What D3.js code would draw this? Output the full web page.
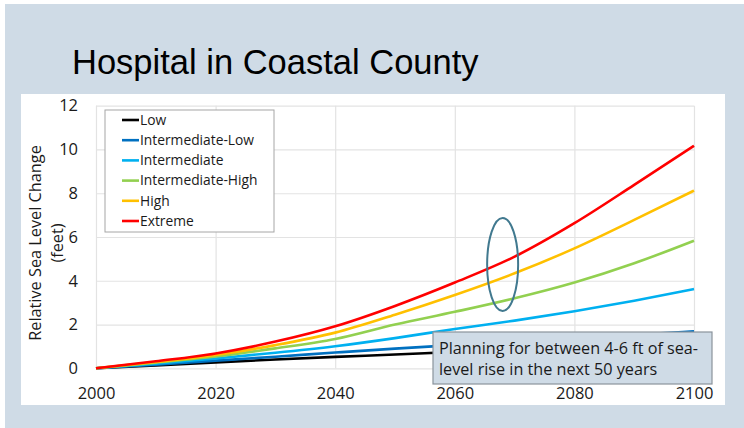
<!DOCTYPE html>
<html>
<head>
<meta charset="utf-8">
<script src="https://cdn.jsdelivr.net/npm/d3@7"></script>
<style>
  html, body { margin: 0; padding: 0; background: #fff; }
  svg { display: block; }
  .grid line { stroke: #e3e3e3; stroke-width: 1.2; }
  .grid .domain { display: none; }
  .axis text { font-family: 'Open Sans', sans-serif; font-size: 16.5px; fill: #1a1a1a; }
  .axis .domain, .axis line { display: none; }
</style>
</head>
<body>
<div id="chart"></div>
<script>
// Data
const years = [2000, 2010, 2020, 2030, 2040, 2050, 2060, 2070, 2080, 2090, 2100];
const low = [0, 0.13, 0.27, 0.40, 0.52, 0.63, 0.75, 0.86, 0.97, 1.08, 1.2];
const intermediateLow = [0, 0.17, 0.35, 0.53, 0.72, 0.90, 1.06, 1.22, 1.38, 1.53, 1.69];
const intermediate = [0, 0.21, 0.45, 0.71, 1.01, 1.38, 1.80, 2.18, 2.61, 3.09, 3.62];
const intermediateHigh = [0, 0.26, 0.54, 0.91, 1.34, 2.0, 2.58, 3.2, 3.92, 4.8, 5.83];
const high = [0, 0.29, 0.61, 1.06, 1.63, 2.45, 3.35, 4.34, 5.48, 6.78, 8.12];
const extreme = [0, 0.32, 0.68, 1.22, 1.92, 2.85, 3.92, 5.10, 6.63, 8.38, 10.17];

const seriesNames = ['Low', 'Intermediate-Low', 'Intermediate', 'Intermediate-High', 'High', 'Extreme'];
const seriesValues = [low, intermediateLow, intermediate, intermediateHigh, high, extreme];
const seriesColors = ['#000000', '#0070c0', '#00b0f0', '#92d050', '#ffc000', '#ff0000'];

const xTicks = [2000, 2020, 2040, 2060, 2080, 2100];
const yTicks = [0, 2, 4, 6, 8, 10, 12];

const title = 'Hospital in Coastal County';
const yTitle = ['Relative Sea Level Change', '(feet)'];
const note = ['Planning for between 4-6 ft of sea-', 'level rise in the next 50 years'];

// Sizes
const W = 744, H = 428;
const margin = { top: 105.7, right: 50, bottom: 59.7, left: 96 };
const width = W - margin.left - margin.right;
const height = H - margin.top - margin.bottom;

const svg = d3.select('#chart').append('svg').attr('width', W).attr('height', H);

// Slide background
svg.append('rect').attr('width', W).attr('height', H).attr('fill', '#ffffff');
svg.append('rect').attr('x', 5).attr('y', 4).attr('width', W - 5).attr('height', H - 4).attr('fill', '#cfdbe6');

svg.append('text')
  .attr('x', 72).attr('y', 74)
  .style('font-family', "'Liberation Sans', Arial, sans-serif")
  .style('font-size', '34.5px')
  .style('fill', '#000')
  .text(title);

// White chart panel
svg.append('rect').attr('x', 21).attr('y', 94).attr('width', 704).attr('height', 311).attr('fill', '#ffffff');

const g = svg.append('g').attr('transform', `translate(${margin.left},${margin.top})`);

const xScale = d3.scaleLinear().domain([2000, 2100]).range([0, width]);
const yScale = d3.scaleLinear().domain([0, 12]).range([height, 0]);

// Gridlines
g.append('g').attr('class', 'grid')
  .call(d3.axisLeft(yScale).tickValues(yTicks).tickSize(-width).tickFormat(''));
g.append('g').attr('class', 'grid')
  .attr('transform', `translate(0,${height})`)
  .call(d3.axisBottom(xScale).tickValues(xTicks).tickSize(-height).tickFormat(''));

// Axes labels
g.append('g').attr('class', 'axis')
  .call(d3.axisLeft(yScale).tickValues(yTicks).tickSize(0).tickPadding(18));

g.append('g').attr('class', 'axis')
  .attr('transform', `translate(0,${height})`)
  .call(d3.axisBottom(xScale).tickValues(xTicks).tickSize(0).tickPadding(19).tickFormat(d3.format('d')));

// Y title
const yTitleText = svg.append('text')
  .attr('transform', `translate(41,${margin.top + height / 2 + 6}) rotate(-90)`)
  .attr('text-anchor', 'middle')
  .style('font-family', "'Open Sans', sans-serif")
  .style('font-size', '16.3px')
  .style('fill', '#1a1a1a');
yTitleText.selectAll('tspan').data(yTitle).enter().append('tspan')
  .attr('x', 0).attr('dy', (d, i) => i === 0 ? 0 : '1.35em')
  .text(d => d);

// Lines
const line = d3.line()
  .x((d, i) => xScale(years[i]))
  .y(d => yScale(d))
  .curve(d3.curveMonotoneX);

g.selectAll('.series')
  .data(seriesValues)
  .enter()
  .append('path')
  .attr('class', 'series')
  .attr('d', line)
  .attr('fill', 'none')
  .attr('stroke', (d, i) => seriesColors[i])
  .attr('stroke-width', 2.6);

// Legend
const legend = svg.append('g').attr('transform', 'translate(105,110)');
legend.append('rect').attr('width', 169).attr('height', 122)
  .attr('fill', '#fff').attr('stroke', '#a6a6a6').attr('stroke-width', 1);
const items = legend.selectAll('.item').data(seriesNames).enter().append('g')
  .attr('transform', (d, i) => `translate(0,${10 + i * 20.2})`);
items.append('line').attr('x1', 17).attr('x2', 34).attr('y1', 0).attr('y2', 0)
  .attr('stroke', (d, i) => seriesColors[i]).attr('stroke-width', 2.6);
items.append('text').attr('x', 35).attr('dy', '0.35em')
  .style('font-family', "'Open Sans', sans-serif")
  .style('font-size', '13.8px')
  .style('fill', '#1a1a1a')
  .text(d => d);

// Ellipse highlight
svg.append('ellipse')
  .attr('cx', xScale(2068) + margin.left).attr('cy', 264.5)
  .attr('rx', 15.5).attr('ry', 46.5)
  .attr('fill', 'none').attr('stroke', '#41798f').attr('stroke-width', 2);

// Annotation box
const noteG = svg.append('g').attr('transform', 'translate(433,332)');
noteG.append('rect').attr('width', 279).attr('height', 52)
  .attr('fill', '#cfdbe6').attr('stroke', '#8a939c').attr('stroke-width', 1.2);
noteG.append('text')
  .style('font-family', "'Open Sans', sans-serif")
  .style('font-size', '16.2px')
  .style('fill', '#1a1a1a')
  .selectAll('tspan').data(note).enter().append('tspan')
  .attr('x', 6).attr('y', (d, i) => 22 + i * 21)
  .text(d => d);
</script>
</body>
</html>
